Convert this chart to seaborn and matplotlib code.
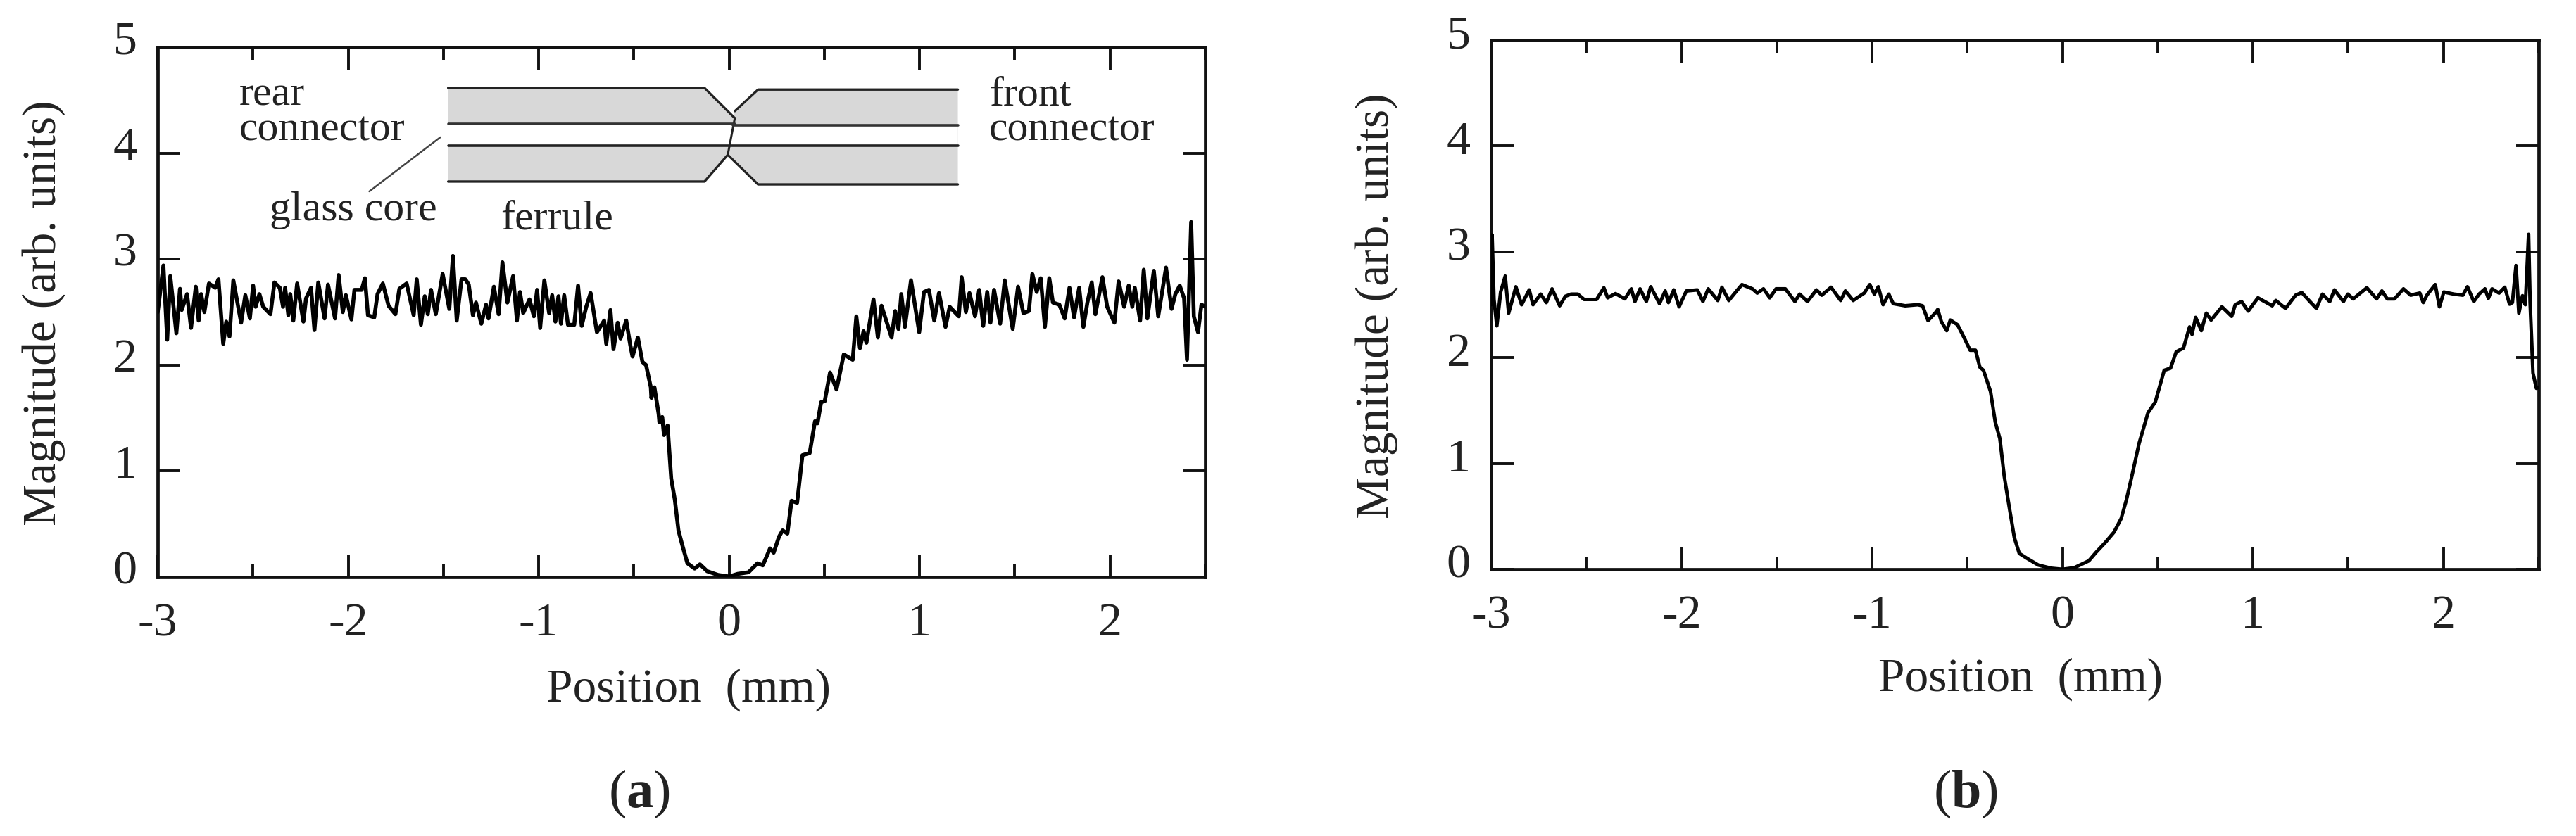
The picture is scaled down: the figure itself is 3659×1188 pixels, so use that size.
import matplotlib
matplotlib.use("Agg")
import matplotlib.pyplot as plt
from matplotlib.transforms import ScaledTranslation
import seaborn as sns

W, H = 3659, 1188

# ---- Panel (a): noisy trace ----
pos_a = [-3.0, -2.995, -2.970, -2.950, -2.934, -2.902, -2.883, -2.874, -2.846, -2.825, -2.800, -2.785, -2.772, -2.755,
         -2.731, -2.698, -2.681, -2.656, -2.640, -2.623, -2.603, -2.562, -2.540, -2.516, -2.499, -2.486, -2.466, -2.446,
         -2.408, -2.387, -2.359, -2.342, -2.331, -2.314, -2.304, -2.288, -2.268, -2.235, -2.221, -2.195, -2.177, -2.157,
         -2.124, -2.106, -2.069, -2.050, -2.028, -2.012, -1.983, -1.967, -1.929, -1.912, -1.896, -1.863, -1.846, -1.818,
         -1.788, -1.752, -1.731, -1.693, -1.656, -1.640, -1.618, -1.598, -1.582, -1.565, -1.540, -1.504, -1.469, -1.450,
         -1.430, -1.405, -1.385, -1.367, -1.345, -1.329, -1.301, -1.276, -1.263, -1.235, -1.210, -1.190, -1.164, -1.134,
         -1.114, -1.098, -1.081, -1.048, -1.025, -1.008, -0.992, -0.970, -0.945, -0.929, -0.912, -0.896, -0.883, -0.866,
         -0.846, -0.813, -0.793, -0.774, -0.750, -0.727, -0.694, -0.656, -0.645, -0.623, -0.607, -0.585, -0.570, -0.540,
         -0.519, -0.507, -0.479, -0.455, -0.436, -0.411, -0.408, -0.392, -0.370, -0.366, -0.351, -0.342, -0.323, -0.304,
         -0.285, -0.266, -0.247, -0.219, -0.181, -0.153, -0.115, -0.058, 0.0, 0.045, 0.102, 0.149, 0.177, 0.215, 0.234,
         0.262, 0.281, 0.306, 0.328, 0.357, 0.385, 0.423, 0.451, 0.464, 0.483, 0.502, 0.530, 0.564, 0.602, 0.649, 0.668,
         0.687, 0.706, 0.721, 0.758, 0.781, 0.800, 0.853, 0.872, 0.889, 0.904, 0.923, 0.955, 0.998, 1.023, 1.049, 1.077,
         1.102, 1.136, 1.158, 1.206, 1.221, 1.243, 1.262, 1.291, 1.313, 1.334, 1.355, 1.372, 1.391, 1.423, 1.447, 1.489,
         1.517, 1.545, 1.574, 1.592, 1.615, 1.636, 1.658, 1.681, 1.700, 1.734, 1.762, 1.787, 1.811, 1.838, 1.860, 1.881,
         1.904, 1.923, 1.960, 1.985, 2.023, 2.045, 2.074, 2.098, 2.117, 2.130, 2.158, 2.177, 2.196, 2.230, 2.253, 2.294,
         2.323, 2.343, 2.366, 2.389, 2.404, 2.426, 2.440, 2.462, 2.480, 2.500]
mag_a = [2.50, 2.57, 2.94, 2.24, 2.84, 2.30, 2.72, 2.52, 2.67, 2.35, 2.74, 2.42, 2.67, 2.50,
         2.77, 2.73, 2.81, 2.20, 2.41, 2.27, 2.80, 2.40, 2.66, 2.44, 2.75, 2.55, 2.67, 2.55,
         2.48, 2.78, 2.73, 2.55, 2.73, 2.47, 2.67, 2.42, 2.77, 2.41, 2.63, 2.73, 2.33, 2.78,
         2.44, 2.76, 2.44, 2.85, 2.50, 2.66, 2.43, 2.71, 2.71, 2.82, 2.47, 2.45, 2.67, 2.77,
         2.56, 2.48, 2.72, 2.77, 2.47, 2.81, 2.38, 2.65, 2.48, 2.71, 2.48, 2.86, 2.53, 3.03,
         2.42, 2.81, 2.81, 2.76, 2.47, 2.59, 2.39, 2.57, 2.44, 2.74, 2.48, 2.97, 2.59, 2.84,
         2.42, 2.69, 2.49, 2.62, 2.46, 2.71, 2.35, 2.80, 2.49, 2.66, 2.41, 2.65, 2.39, 2.66,
         2.38, 2.38, 2.75, 2.37, 2.55, 2.68, 2.31, 2.42, 2.20, 2.52, 2.15, 2.40, 2.25, 2.42,
         2.19, 2.08, 2.26, 2.03, 2.00, 1.79, 1.69, 1.79, 1.54, 1.46, 1.51, 1.34, 1.43, 0.93,
         0.73, 0.44, 0.31, 0.13, 0.08, 0.12, 0.055, 0.02, 0.005, 0.03, 0.045, 0.13, 0.11, 0.27, 0.23,
         0.38, 0.44, 0.41, 0.72, 0.70, 1.15, 1.17, 1.47, 1.45, 1.65, 1.66, 1.93, 1.77, 2.10, 2.05, 2.46,
         2.16, 2.32, 2.21, 2.62, 2.26, 2.56, 2.26, 2.51, 2.34, 2.67, 2.36, 2.80, 2.31, 2.69, 2.71, 2.42,
         2.68, 2.36, 2.55, 2.46, 2.83, 2.50, 2.68, 2.46, 2.71, 2.37, 2.69, 2.40, 2.71, 2.39, 2.80, 2.34,
         2.74, 2.49, 2.51, 2.86, 2.69, 2.82, 2.36, 2.82, 2.59, 2.57, 2.44, 2.73, 2.45, 2.73, 2.36, 2.59,
         2.78, 2.48, 2.83, 2.55, 2.40, 2.79, 2.55, 2.75, 2.55, 2.73, 2.42, 2.90, 2.44, 2.89, 2.46, 2.92,
         2.53, 2.67, 2.75, 2.63, 2.05, 3.35, 2.46, 2.31, 2.57, 2.55]

# ---- Panel (b): smoother trace ----
pos_b = [-3.0, -2.995, -2.985, -2.970, -2.950, -2.926, -2.908, -2.870, -2.840, -2.800, -2.780, -2.740, -2.710, -2.680,
         -2.640, -2.610, -2.580, -2.545, -2.512, -2.446, -2.408, -2.388, -2.347, -2.298, -2.264, -2.245, -2.218, -2.185,
         -2.162, -2.116, -2.086, -2.069, -2.041, -2.013, -1.975, -1.917, -1.888, -1.860, -1.810, -1.788, -1.752, -1.711,
         -1.683, -1.628, -1.603, -1.570, -1.537, -1.504, -1.455, -1.405, -1.380, -1.339, -1.292, -1.264, -1.215, -1.165,
         -1.140, -1.099, -1.041, -1.012, -0.988, -0.967, -0.942, -0.912, -0.889, -0.826, -0.760, -0.735, -0.706, -0.669,
         -0.655, -0.636, -0.608, -0.589, -0.551, -0.517, -0.485, -0.457, -0.434, -0.415, -0.378, -0.353, -0.329, -0.306,
         -0.278, -0.253, -0.227, -0.183, -0.127, -0.060, 0.0, 0.062, 0.138, 0.176, 0.223, 0.270, 0.308, 0.336, 0.364,
         0.402, 0.449, 0.487, 0.534, 0.567, 0.597, 0.635, 0.667, 0.680, 0.699, 0.729, 0.755, 0.780, 0.837, 0.888, 0.907,
         0.940, 0.975, 1.026, 1.101, 1.120, 1.171, 1.224, 1.256, 1.299, 1.333, 1.365, 1.403, 1.428, 1.475, 1.498, 1.526,
         1.598, 1.649, 1.677, 1.705, 1.743, 1.790, 1.828, 1.876, 1.894, 1.913, 1.957, 1.979, 2.002, 2.055, 2.102, 2.126,
         2.159, 2.187, 2.218, 2.236, 2.255, 2.292, 2.322, 2.347, 2.362, 2.381, 2.396, 2.415, 2.430, 2.447, 2.455, 2.470,
         2.488, 2.500]
mag_b = [2.50, 3.16, 2.55, 2.30, 2.62, 2.77, 2.42, 2.67, 2.50, 2.64, 2.50, 2.60, 2.52, 2.65,
         2.49, 2.58, 2.60, 2.60, 2.55, 2.55, 2.66, 2.565, 2.605, 2.555, 2.65, 2.53, 2.65, 2.53,
         2.67, 2.51, 2.63, 2.52, 2.64, 2.48, 2.63, 2.64, 2.53, 2.65, 2.54, 2.665, 2.54, 2.63,
         2.69, 2.65, 2.61, 2.65, 2.565, 2.65, 2.65, 2.53, 2.60, 2.53, 2.64, 2.59, 2.665, 2.54,
         2.63, 2.54, 2.61, 2.69, 2.60, 2.67, 2.50, 2.60, 2.51, 2.49, 2.50, 2.49, 2.35, 2.42,
         2.455, 2.34, 2.255, 2.355, 2.31, 2.19, 2.07, 2.07, 1.91, 1.88, 1.68, 1.39, 1.235, 0.88,
         0.57, 0.30, 0.15, 0.10, 0.04, 0.01, 0.0, 0.015, 0.08, 0.16, 0.25, 0.35, 0.48, 0.66, 0.88,
         1.19, 1.48, 1.58, 1.88, 1.90, 2.055, 2.09, 2.29, 2.22, 2.38, 2.255, 2.42, 2.355, 2.48, 2.39, 2.50,
         2.53, 2.44, 2.565, 2.49, 2.54, 2.465, 2.59, 2.615, 2.53, 2.465, 2.60, 2.53, 2.64, 2.53, 2.60, 2.555,
         2.66, 2.555, 2.63, 2.555, 2.555, 2.65, 2.59, 2.61, 2.52, 2.59, 2.69, 2.48, 2.62, 2.60, 2.59, 2.67,
         2.53, 2.60, 2.65, 2.56, 2.65, 2.61, 2.665, 2.505, 2.52, 2.87, 2.42, 2.585, 2.50, 3.165, 2.52, 1.855,
         1.71, 1.72]

# Axis ticks and labels
x_major = [-3, -2, -1, 0, 1, 2]
x_minor = [-2.5, -1.5, -0.5, 0.5, 1.5, 2.5]
y_major = [0, 1, 2, 3, 4, 5]
x_label = "Position  (mm)"
y_label = "Magnitude (arb. units)"

# ---- Connector sketch, in panel (a) data units ----
rear_x = [-1.475, -0.129, 0.030, -0.007, -0.129, -1.475]
rear_y = [4.615, 4.615, 4.33, 3.984, 3.732, 3.732]
front_x = [1.201, 0.152, 0.030, -0.007, 0.152, 1.201]
front_y = [4.60, 4.60, 4.396, 3.984, 3.705, 3.705]
bore_x = [-1.475, 1.201, 1.201, -1.475]
bore_y = [4.276, 4.265, 4.07, 4.07]
leader_x = [-1.516, -1.889]
leader_y = [4.15, 3.639]

sns.set_theme(style="ticks")
plt.rcParams["font.family"] = ["Liberation Serif"]
plt.rcParams["axes.unicode_minus"] = False
plt.rcParams["mathtext.fontset"] = "custom"
plt.rcParams["mathtext.rm"] = "Liberation Serif"
plt.rcParams["mathtext.bf"] = "Liberation Serif:bold"

fig = plt.figure(figsize=(W / 100, H / 100), dpi=100, facecolor="white")
INK = "#111111"


def make_panel(left, right, top, bottom, x, y, lw, lift):
    ax = fig.add_axes([left / W, 1 - bottom / H, (right - left) / W, (bottom - top) / H])
    sns.lineplot(x=x, y=y, ax=ax, color="black", lw=lw, estimator=None, sort=False, zorder=3, clip_on=True)
    ax.set_xlim(-3, 2.5)
    ax.set_ylim(0, 5)
    ax.set_xticks(x_major)
    ax.set_xticks(x_minor, minor=True)
    ax.set_yticks(y_major)
    ax.tick_params(which="major", direction="in", length=23, width=2.8, top=True, right=True,
                   color=INK, labelsize=49, labelcolor="#222222")
    ax.tick_params(axis="x", which="major", pad=26)
    ax.tick_params(axis="y", which="major", pad=21)
    ax.tick_params(which="minor", direction="in", length=13, width=2.8, top=True, color=INK)
    for side in ax.spines.values():
        side.set_linewidth(3.4)
        side.set_color(INK)
    # the y numbers sit a little above their ticks in the original
    shift = ScaledTranslation(0, lift / 100, fig.dpi_scale_trans)
    for lab in ax.get_yticklabels():
        lab.set_transform(lab.get_transform() + shift)
    return ax


ax_a = make_panel(224, 1712, 67, 820, pos_a, mag_a, 4.0, 14)
ax_b = make_panel(2118, 3606, 57, 809, pos_b, mag_b, 3.6, 12)

# ---- Sketch inside panel (a) ----
ax_a.fill(rear_x, rear_y, color="#d8d8d8", lw=0, zorder=1)
ax_a.fill(front_x, front_y, color="#d8d8d8", lw=0, zorder=1)
ax_a.fill(bore_x, bore_y, color="white", lw=0, zorder=1.5)
ax_a.plot(rear_x[:3], rear_y[:3], color="#222222", lw=2.4, zorder=2)
ax_a.plot(rear_x[3:], rear_y[3:], color="#222222", lw=2.4, zorder=2)
ax_a.plot(front_x[:3], front_y[:3], color="#222222", lw=2.4, zorder=2)
ax_a.plot(front_x[3:], front_y[3:], color="#222222", lw=2.4, zorder=2)
ax_a.plot([0.030, -0.007], [4.33, 3.984], color="#222222", lw=2.2, zorder=2)
ax_a.plot([-1.475, 0.03], [4.276, 4.276], color="#333333", lw=2.6, zorder=2)
ax_a.plot([0.02, 1.201], [4.265, 4.265], color="#333333", lw=2.6, zorder=2)
ax_a.plot([-1.475, 1.201], [4.07, 4.07], color="#222222", lw=2.6, zorder=2)
ax_a.plot(leader_x, leader_y, color="#444444", lw=1.8, zorder=2)


def fig_text(px, py, s, **kw):
    fig.text(px / W, 1 - py / H, s, color="#222222", **kw)


inset_style = dict(fontsize=43, ha="left", va="baseline")
fig_text(340, 150, "rear", **inset_style)
fig_text(340, 200, "connector", **inset_style)
fig_text(1405, 150, "front", **inset_style)
fig_text(1405, 200, "connector", **inset_style)
fig_text(383, 313, "glass core", **inset_style)
fig_text(711, 325, "ferrule", **inset_style)

# ---- Axis titles and panel letters ----
fig_text(978, 980, x_label, fontsize=48.5, ha="center", va="center")
fig_text(2870, 965, x_label, fontsize=48.5, ha="center", va="center")
fig_text(62, 445, y_label, fontsize=48.5, rotation=90, ha="center", va="center")
fig_text(1955, 435, y_label, fontsize=48.5, rotation=90, ha="center", va="center")
fig_text(908, 1128, r"($\mathbf{a}$)", fontsize=55, ha="center", va="center")
fig_text(2792, 1128, r"($\mathbf{b}$)", fontsize=55, ha="center", va="center")

fig.savefig("out.png", dpi=100, facecolor="white")
